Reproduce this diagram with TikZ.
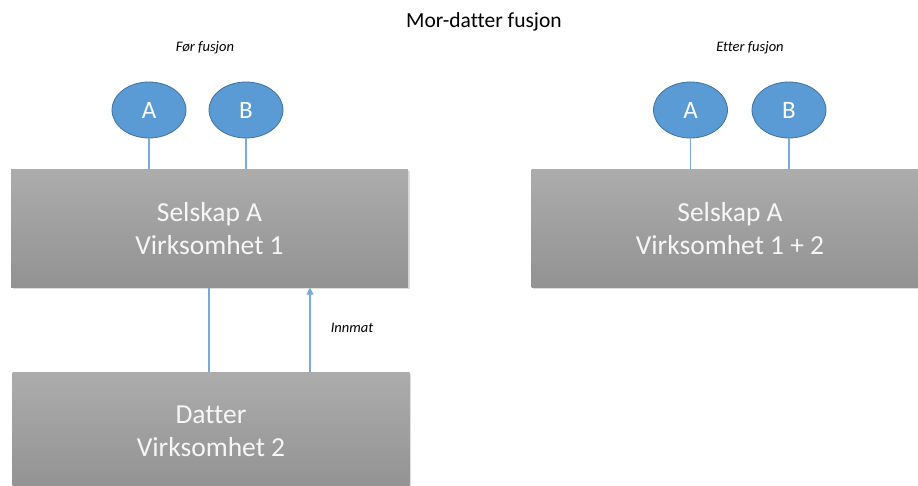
\documentclass[tikz,border=0pt]{standalone}
\usepackage{fontspec}
\setmainfont{Carlito}[Ligatures=NoCommon]
\usetikzlibrary{shapes.geometric,arrows.meta,shadows}
\definecolor{ellfill}{RGB}{91,155,213}
\definecolor{elledge}{RGB}{65,113,156}
\definecolor{linkc}{RGB}{120,170,220}
\definecolor{boxtop}{RGB}{172,172,172}
\definecolor{boxbot}{RGB}{146,146,146}
\definecolor{boxtext}{RGB}{246,246,246}
\tikzset{
  gbox/.style={rectangle, minimum width=397pt, minimum height=118pt, inner sep=0pt,
    top color=boxtop, bottom color=boxbot, draw=none,
    drop shadow={opacity=0.25, shadow xshift=1.5pt, shadow yshift=-1.5pt},
    text=boxtext, align=center, font=\fontsize{27.5}{33}\selectfont},
  owner/.style={ellipse, minimum width=74pt, minimum height=56pt, inner sep=0pt,
    fill=ellfill, draw=elledge, line width=0.8pt, text=white, font=\fontsize{25}{28}\selectfont},
  link/.style={draw=linkc, line width=1.1pt},
  lbl/.style={font=\fontsize{14.5}{16}\selectfont\itshape, text=black},
}
\begin{document}
\begin{tikzpicture}[x=1pt,y=-1pt]
\clip (0,0) rectangle (918,486);
\useasboundingbox (0,0) rectangle (918,486);
\fill[white] (0,0) rectangle (918,486);

\node[font=\fontsize{21.5}{24}\selectfont, text=black] (title) at (484,22) {Mor-datter fusjon};
\node[lbl] (for) at (205,48) {Før fusjon};
\node[lbl] (etter) at (750,48) {Etter fusjon};

% left side
\node[gbox] (selA) at (209.5,228.5) {Selskap A\\Virksomhet 1};
\node[gbox] (dat) at (211,431) {Datter\\Virksomhet 2};
\node[owner] (A1) at (149,110) {A};
\node[owner] (B1) at (246,110) {B};
\draw[link] (A1.south) -- (A1.south |- selA.north);
\draw[link] (B1.south) -- (B1.south |- selA.north);

\coordinate (l1) at (209,0);
\coordinate (l2) at (310,0);
\draw[link] (l1 |- dat.north) -- (l1 |- selA.south);
\draw[link, -{Triangle[length=7pt,width=7pt]}] (l2 |- dat.north) -- (l2 |- selA.south);
\node[lbl] (innmat) at (352,328) {Innmat};

% right side
\node[gbox] (selB) at (730,228.5) {Selskap A\\Virksomhet 1 + 2};
\node[owner] (A2) at (690.5,110) {A};
\node[owner] (B2) at (789,110) {B};
\draw[link] (A2.south) -- (A2.south |- selB.north);
\draw[link] (B2.south) -- (B2.south |- selB.north);
\end{tikzpicture}
\end{document}
